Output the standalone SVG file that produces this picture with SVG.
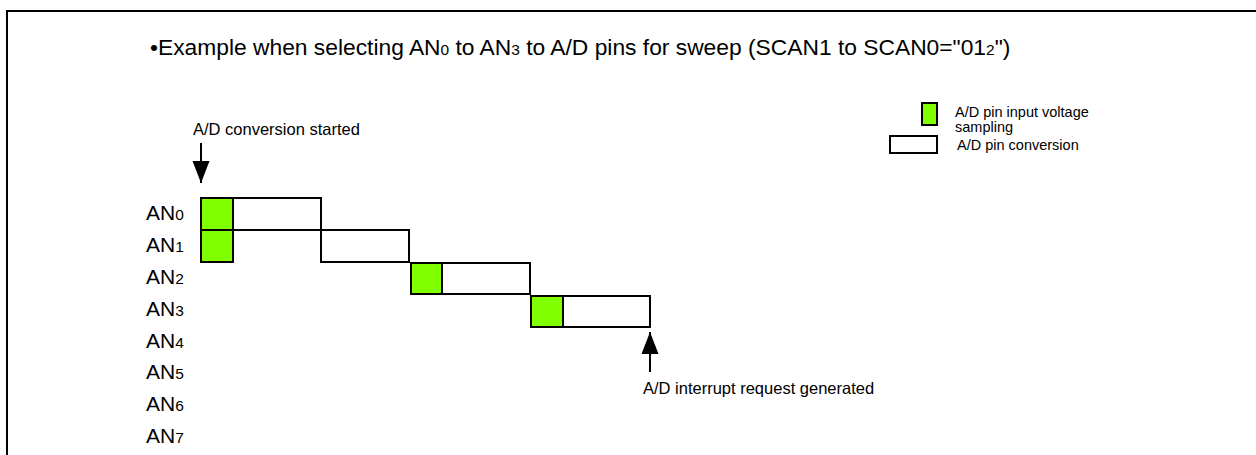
<svg xmlns="http://www.w3.org/2000/svg" width="1256" height="455" viewBox="0 0 1256 455">
<style>
text{font-family:"Liberation Sans",Arial,sans-serif;fill:#000}
.t{font-size:22.8px}
.a{font-size:21px}
.sub{font-size:15.5px}
.s{font-size:14.5px}
.sm{font-size:16.5px}
.g{fill:#80ff00;stroke:#000;stroke-width:2}
.w{fill:#fff;stroke:#000;stroke-width:2}
.ln{stroke:#000;stroke-width:2;fill:none}
</style>
<defs>
<marker id="ah" markerWidth="22" markerHeight="18" refX="22" refY="8.5" orient="auto" markerUnits="userSpaceOnUse" viewBox="0 0 22 17">
<path d="M0,0 L22,8.5 L0,17 Z" fill="#000"/>
</marker>
</defs>
<rect width="1256" height="455" fill="#fff"/>
<path class="ln" d="M7,455 V11 H1256" stroke-width="2.5"/>
<text class="t" x="150" y="55">•Example when selecting AN<tspan class="sub">0</tspan> to AN<tspan class="sub">3</tspan> to A/D pins for sweep (SCAN1 to SCAN0="01<tspan class="sub">2</tspan>")</text>
<g id="labels">
<text class="a" x="146" y="220">AN<tspan class="sub">0</tspan></text>
<text class="a" x="146" y="252">AN<tspan class="sub">1</tspan></text>
<text class="a" x="146" y="284">AN<tspan class="sub">2</tspan></text>
<text class="a" x="146" y="316">AN<tspan class="sub">3</tspan></text>
<text class="a" x="146" y="348">AN<tspan class="sub">4</tspan></text>
<text class="a" x="146" y="379">AN<tspan class="sub">5</tspan></text>
<text class="a" x="146" y="411">AN<tspan class="sub">6</tspan></text>
<text class="a" x="146" y="443">AN<tspan class="sub">7</tspan></text>
</g>
<g id="an0">
<rect class="w" x="233" y="198" width="88" height="32"/>
<rect class="g" x="201" y="198" width="32" height="32"/>
</g>
<g id="an1">
<rect class="g" x="201" y="230" width="32" height="32"/>
<rect class="w" x="321" y="230" width="88" height="32"/>
</g>
<g id="an2">
<rect class="g" x="411" y="263" width="31" height="31"/>
<rect class="w" x="442" y="263" width="88" height="31"/>
</g>
<g id="an3">
<rect class="g" x="531" y="296" width="32" height="31"/>
<rect class="w" x="563" y="296" width="87" height="31"/>
</g>
<g id="connectors">
<line class="ln" x1="201" y1="143" x2="201" y2="183" marker-end="url(#ah)"/>
<line class="ln" x1="650" y1="372" x2="650" y2="332" marker-end="url(#ah)"/>
</g>
<g id="start-label"><text class="sm" x="193" y="135">A/D conversion started</text></g>
<g id="end-label"><text class="sm" x="643" y="394">A/D interrupt request generated</text></g>
<g id="legend">
<rect class="g" x="922" y="103" width="15" height="22"/>
<rect class="w" x="890" y="136" width="47" height="17"/>
<text class="s" x="955" y="117">A/D pin input voltage</text>
<text class="s" x="955" y="132">sampling</text>
<text class="s" x="957" y="150">A/D pin conversion</text>
</g>
</svg>
